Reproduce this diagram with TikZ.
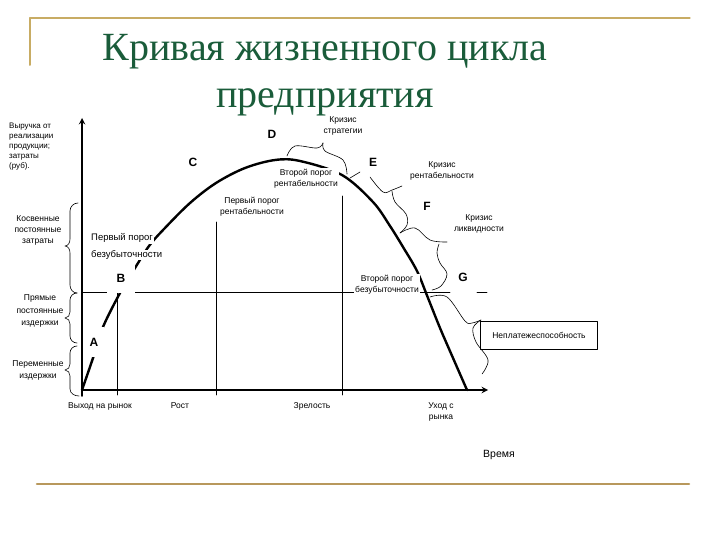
\documentclass[tikz,border=0pt]{standalone}
\usepackage{fontspec}
\setmainfont{Liberation Sans}
\newfontfamily\TitleFont{Liberation Serif}
\usetikzlibrary{arrows}
\definecolor{TitleGreen}{RGB}{26,92,58}
\definecolor{FrameGold}{RGB}{200,172,100}
\definecolor{FrameDark}{RGB}{184,152,92}
\newcommand{\LabelFont}{\fontsize{8.5}{11}\selectfont}

\begin{document}
\begin{tikzpicture}[line cap=round,line join=round,>=stealth
  ,x=1pt,y=-1pt
  ,lbl/.style={font=\LabelFont,align=center,fill=white,inner sep=1pt}
  ,ltr/.style={font=\fontsize{12}{12}\selectfont\bfseries,fill=white,inner sep=2pt}
  ,brc/.style={line width=0.6pt}]
  \useasboundingbox (0,0) rectangle (720,540);
  % slide frame
  \draw[FrameGold,line width=1.2pt] (30,18) -- (690,18);
  \draw[FrameGold,line width=2pt] (30,18) -- (30,65);
  \draw[FrameDark,line width=2.6pt] (37,484) -- (689,484);
  \node[TitleGreen,font=\TitleFont\fontsize{40}{40}\selectfont,anchor=base]
    (title1) at (325,61) {Кривая жизненного цикла};
  \node[TitleGreen,font=\TitleFont\fontsize{40}{40}\selectfont,anchor=base]
    (title2) at (325,108) {предприятия};
  % guide lines
  \draw[line width=0.8pt] (82,292) -- (450,292);
  \draw[line width=0.8pt] (477,292) -- (487,292);
  \draw[line width=0.8pt] (117,292) -- (117,395);
  \draw[line width=0.8pt] (216,222) -- (216,395);
  \draw[line width=0.8pt] (342,196) -- (342,395);
  % life cycle curve
  \draw[line width=2.4pt] plot[smooth,tension=0.55] coordinates {
    (82,390) (93,358) (103,327) (120,293) (135,268) (149,246) (164,229)
    (190,203) (216,183) (245,168) (275,160) (300,161) (342,175) (373,202)
    (390,226) (403,247) (417,271) (428,298) (440,328) (453,358) (467,390)};
  % axes
  \draw[->,line width=1.8pt] (82,396) -- (82,118);
  \draw[->,line width=1.8pt] (82,390) -- (488,390);
  % stage letters
  \node[ltr,minimum width=20,minimum height=30] (A) at (94,342) {A};
  \node[ltr,minimum width=28,minimum height=30] (B) at (121,278) {B};
  \node[ltr] (C) at (193,162) {C};
  \node[ltr] (D) at (272,134) {D};
  \node[ltr] (E) at (373,162) {E};
  \node[ltr] (F) at (427,206) {F};
  \node[ltr] (G) at (463,277) {G};
  % thresholds
  \node[lbl,font=\fontsize{9.5}{11}\selectfont,anchor=west] (bez1a) at (90,238) {Первый порог};
  \node[lbl,font=\fontsize{9.5}{11}\selectfont,anchor=west] (bez1b) at (90,255) {безубыточности};
  \node[lbl] (bez2) at (387,285) {Второй порог\\безубыточности};
  \node[lbl] (rent1) at (252,207) {Первый порог\\рентабельности};
  \node[lbl] (rent2) at (306,179) {Второй порог\\рентабельности};
  % crises
  \node[lbl] (kstrat) at (343,126) {Кризис\\стратегии};
  \node[lbl] (krent) at (442,171) {Кризис\\рентабельности};
  \node[lbl] (kliq) at (479,224) {Кризис\\ликвидности};
  \node[lbl,draw,line width=0.6pt,minimum width=117,minimum height=28]
    (insolv) at (539,335) {Неплатежеспособность};
  \draw[brc] plot[smooth,tension=0.6] coordinates {(287,156) (295,146) (317,148) (323,143)};
  \draw[brc] plot[smooth,tension=0.6] coordinates {(323,143) (325,151) (343,160) (347,174)};
  \draw[brc] (350,178) -- (360,172);
  \draw[brc] plot[smooth,tension=0.6] coordinates {(370,177) (383,192) (392,190) (402,186)};
  \draw[brc] plot[smooth,tension=0.6] coordinates {(392,191) (395,202) (406,214) (407,225) (400,233)};
  \draw[brc] plot[smooth,tension=0.6] coordinates {(400,233) (415,228) (430,240) (447,242)};
  \draw[brc] plot[smooth,tension=0.6] coordinates {(439,244) (437,253) (440,263) (447,274) (441,286) (432,290)};
  \draw[brc] plot[smooth,tension=0.6] coordinates {(430,297) (447,297) (465,321) (472,323) (481,320)};
  \draw[brc] plot[smooth,tension=0.6] coordinates {(481,320) (473,328) (476,342) (488,360) (482,374)};
  % cost labels on the left
  \node[font=\fontsize{8}{10}\selectfont,align=left,anchor=north west,inner sep=0]
    (rev) at (9,123) {Выручка от\\реализации\\продукции;\\затраты\\(руб).};
  \node[lbl,font=\fontsize{8.5}{11}\selectfont] (indir) at (38,230) {Косвенные\\постоянные\\затраты};
  \node[lbl,font=\fontsize{8.5}{12.5}\selectfont] (direct) at (40,311) {Прямые\\постоянные\\издержки};
  \node[lbl,font=\fontsize{8.5}{12}\selectfont] (var) at (38,370) {Переменные\\издержки};
  \draw[brc] (78,203) to[out=180,in=90] (70,211) -- (70,239) to[out=-90,in=0] (65,246)
    to[out=0,in=90] (70,253) -- (70,285) to[out=-90,in=180] (77,293);
  \draw[brc] (77,293) to[out=180,in=90] (70,300) -- (70,312) to[out=-90,in=0] (65,318)
    to[out=0,in=90] (70,324) -- (70,336) to[out=-90,in=180] (77,343);
  \draw[brc] (77,346) to[out=180,in=90] (70,353) -- (70,364) to[out=-90,in=0] (65,370)
    to[out=0,in=90] (70,376) -- (70,389) to[out=-90,in=180] (79,396);
  % stages on the time axis
  \node[lbl] (s1) at (100,406) {Выход на рынок};
  \node[lbl] (s2) at (180,406) {Рост};
  \node[lbl] (s3) at (312,406) {Зрелость};
  \node[lbl] (s4) at (441,412) {Уход с\\рынка};
  \node[font=\fontsize{10.5}{12}\selectfont] (time) at (499,455) {Время};
\end{tikzpicture}
\end{document}
